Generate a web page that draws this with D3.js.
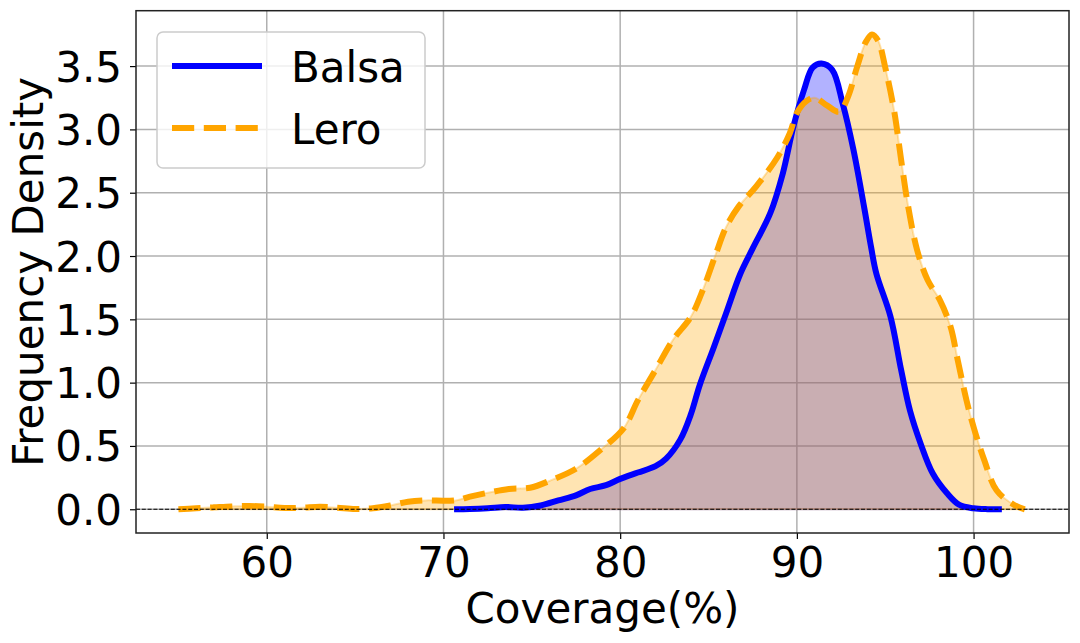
<!DOCTYPE html>
<html>
<head>
<meta charset="utf-8">
<script src="https://cdn.jsdelivr.net/npm/d3@7"></script>
<style>
  html, body { margin: 0; padding: 0; background: #fff; }
  svg text { font-family: "DejaVu Sans", sans-serif; fill: #000; }
</style>
</head>
<body>
<svg id="chart" width="1080" height="643"></svg>
<script>
// Density curves

const BALSA_X = [70.6, 71.5, 72.5, 73.5, 74.5, 75.5, 76.5, 77.5, 78.3, 79.2, 80, 81, 82, 82.6,
  83.4, 84, 84.5, 85.3, 86, 86.8, 87.5, 88.5, 89.2, 89.8, 90.4, 90.9, 91.4, 92, 92.6, 93.2,
  93.8, 94.2, 94.5, 95.3, 95.9, 96.4, 97, 97.7, 98.5, 99.2, 100, 100.8, 101.6];
const BALSA_Y = [0, 0.002, 0.008, 0.018, 0.012, 0.03, 0.07, 0.11, 0.16, 0.19, 0.24, 0.29, 0.34, 0.40,
  0.55, 0.75, 0.98, 1.28, 1.55, 1.86, 2.06, 2.34, 2.65, 3.02, 3.31, 3.49, 3.52, 3.47, 3.20, 2.84,
  2.39, 2.07, 1.86, 1.52, 1.10, 0.78, 0.52, 0.28, 0.126, 0.034, 0.008, 0.001, 0];

const LERO_X = [55, 56, 57, 58, 59, 60, 61, 62, 63, 64, 65, 66, 67, 68, 69, 70, 70.7, 71.5, 72.5,
  73.7, 74.9, 76.1, 77.5, 78.9, 80.2, 81, 82, 83, 84, 84.7, 85.4, 86, 86.7, 87.7, 88.9, 89.6, 90,
  90.5, 91, 91.7, 92.4, 92.9, 93.4, 93.9, 94.25, 94.6, 95, 95.5, 95.9, 96.3, 96.8, 97.4, 98.1,
  98.7, 99.1, 99.6, 100, 100.6, 101.3, 102.3, 102.9];
const LERO_Y = [0, 0.008, 0.015, 0.022, 0.026, 0.02, 0.01, 0.012, 0.02, 0.012, 0.002, 0.008, 0.03,
  0.06, 0.07, 0.068, 0.07, 0.1, 0.13, 0.16, 0.17, 0.23, 0.32, 0.47, 0.64, 0.86, 1.1, 1.34, 1.52,
  1.74, 2.01, 2.23, 2.39, 2.55, 2.78, 2.97, 3.13, 3.22, 3.25, 3.19, 3.14, 3.26, 3.49, 3.69, 3.75,
  3.70, 3.49, 3.15, 2.76, 2.39, 2.05, 1.81, 1.65, 1.44, 1.18, 0.86, 0.65, 0.39, 0.15, 0.034, 0];

const X_TICKS = [60, 70, 80, 90, 100];
const Y_TICKS = [0, 0.5, 1, 1.5, 2, 2.5, 3, 3.5];

const SERIES = [
  { name: "Balsa", xs: BALSA_X, ys: BALSA_Y, color: "#0000ff", dash: null },
  { name: "Lero",  xs: LERO_X,  ys: LERO_Y,  color: "#ffa500", dash: "22.2,9.6" },
];

// ── Layout ────────────────────────────────────────────────────
const plot = { left: 136, right: 1069, top: 10.7, bottom: 533 };
const FONT = 42;

const svg = d3.select("#chart");

const x = d3.scaleLinear().domain([52.6, 105.4]).range([plot.left, plot.right]);
const y = d3.scaleLinear().domain([-0.1875, 3.9375]).range([plot.bottom, plot.top]);

// ── Grid ──────────────────────────────────────────────────────
const grid = svg.append("g");
X_TICKS.forEach(t => {
  grid.append("line")
    .attr("x1", x(t)).attr("x2", x(t))
    .attr("y1", plot.top).attr("y2", plot.bottom)
    .attr("stroke", "#b0b0b0").attr("stroke-width", 1.5);
});
Y_TICKS.forEach(t => {
  grid.append("line")
    .attr("x1", plot.left).attr("x2", plot.right)
    .attr("y1", y(t)).attr("y2", y(t))
    .attr("stroke", "#b0b0b0").attr("stroke-width", 1.5);
});

// ── Fills and lines ───────────────────────────────────────────
const pts = s => s.xs.map((v, i) => [v, s.ys[i]]);
const curve = d3.curveCatmullRom.alpha(0.5);

const area = d3.area()
  .x(d => x(d[0])).y0(y(0)).y1(d => y(d[1]))
  .curve(curve);
const line = d3.line()
  .x(d => x(d[0])).y(d => y(d[1]))
  .curve(curve);

svg.append("clipPath").attr("id", "clip")
  .append("rect")
  .attr("x", plot.left).attr("y", plot.top)
  .attr("width", plot.right - plot.left).attr("height", plot.bottom - plot.top);

const marks = svg.append("g").attr("clip-path", "url(#clip)");

SERIES.forEach(s => {
  marks.append("path")
    .attr("d", area(pts(s)))
    .attr("fill", s.color).attr("fill-opacity", 0.3)
    .attr("stroke", s.color).attr("stroke-opacity", 0.3)
    .attr("stroke-width", 2);
});

SERIES.forEach(s => {
  marks.append("path")
    .attr("d", line(pts(s)))
    .attr("fill", "none")
    .attr("stroke", s.color).attr("stroke-width", 6)
    .attr("stroke-dasharray", s.dash)
    .attr("stroke-linecap", "butt");
});

// zero reference line
marks.append("line")
  .attr("x1", plot.left).attr("x2", plot.right)
  .attr("y1", y(0)).attr("y2", y(0))
  .attr("stroke", "#000").attr("stroke-width", 1.1)
  .attr("stroke-dasharray", "4,1.8");

// ── Axes ──────────────────────────────────────────────────────
const axX = svg.append("g").attr("transform", `translate(0,${plot.bottom})`)
  .call(d3.axisBottom(x).tickValues(X_TICKS).tickSize(6).tickPadding(8).tickFormat(d3.format("d")));
const axY = svg.append("g").attr("transform", `translate(${plot.left},0)`)
  .call(d3.axisLeft(y).tickValues(Y_TICKS).tickSize(6).tickPadding(8).tickFormat(d3.format(".1f")));

[axX, axY].forEach(a => {
  a.select(".domain").remove();
  a.selectAll(".tick line").attr("stroke", "#000").attr("stroke-width", 1.2);
  a.selectAll("text")
    .attr("font-size", FONT + "px")
    .attr("font-family", "DejaVu Sans, sans-serif")
    .attr("fill", "#000");
});
axX.selectAll("text").attr("dy", null).attr("y", 44);
axY.selectAll("text").attr("dy", null).attr("y", 15);

// frame
svg.append("rect")
  .attr("x", plot.left).attr("y", plot.top)
  .attr("width", plot.right - plot.left).attr("height", plot.bottom - plot.top)
  .attr("fill", "none").attr("stroke", "#222").attr("stroke-width", 1.5);

// ── Axis titles ───────────────────────────────────────────────
svg.append("text")
  .attr("x", (plot.left + plot.right) / 2).attr("y", 623)
  .attr("text-anchor", "middle").attr("font-size", FONT + "px")
  .text("Coverage(%)");

svg.append("text")
  .attr("transform", `translate(43,${(plot.top + plot.bottom) / 2}) rotate(-90)`)
  .attr("text-anchor", "middle").attr("font-size", FONT + "px")
  .text("Frequency Density");

// ── Legend ────────────────────────────────────────────────────
const lg = svg.append("g");
lg.append("rect")
  .attr("x", 157).attr("y", 32).attr("width", 268).attr("height", 136)
  .attr("rx", 6).attr("ry", 6)
  .attr("fill", "#fff").attr("fill-opacity", 0.8)
  .attr("stroke", "#cccccc").attr("stroke-width", 1.5);

SERIES.forEach((s, i) => {
  const ly = 66 + i * 62;
  lg.append("line")
    .attr("x1", 172).attr("x2", 262)
    .attr("y1", ly).attr("y2", ly)
    .attr("stroke", s.color).attr("stroke-width", 6)
    .attr("stroke-dasharray", s.dash);
  lg.append("text")
    .attr("x", 291).attr("y", ly + 16)
    .attr("font-size", FONT + "px")
    .text(s.name);
});
</script>
</body>
</html>
